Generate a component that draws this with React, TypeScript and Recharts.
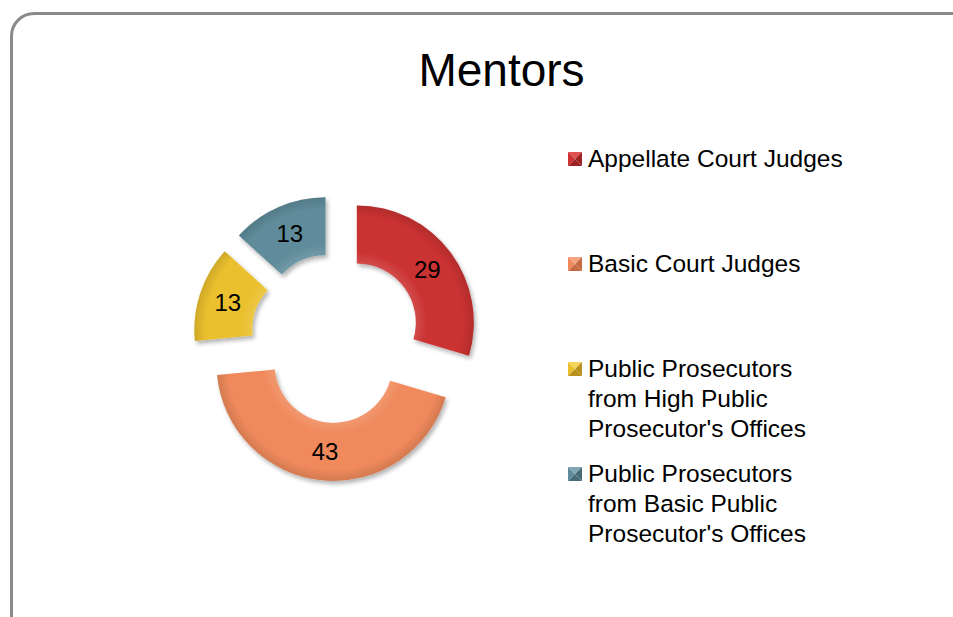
import React from 'react';
import { PieChart, Pie, Cell, Sector, Legend } from 'recharts';

const categories = [
  'Appellate Court Judges',
  'Basic Court Judges',
  "Public Prosecutors from High Public Prosecutor's Offices",
  "Public Prosecutors from Basic Public Prosecutor's Offices",
];
const legendLines = [
  ['Appellate Court Judges'],
  ['Basic Court Judges'],
  ['Public Prosecutors', 'from High Public', "Prosecutor's Offices"],
  ['Public Prosecutors', 'from Basic Public', "Prosecutor's Offices"],
];
const values = [29, 43, 13, 13];
const colors = ['#CB3131', '#F08A5C', '#EAC02E', '#5F8B9A'];
const lightColors = ['#E0524F', '#F6A47E', '#F5D65A', '#81A6B3'];
const darkColors = ['#9E2222', '#C86A43', '#B8921C', '#466C79'];

const data = categories.map((name, i) => ({ name, value: values[i] }));

const RAD = Math.PI / 180;
const EXPLODE = 26;
const FONT = '"Liberation Sans", Arial, sans-serif';

const offset = (midAngle: number) => ({
  dx: EXPLODE * Math.cos(-midAngle * RAD),
  dy: EXPLODE * Math.sin(-midAngle * RAD),
});

const ExplodedSector = (props: any) => {
  const { dx, dy } = offset(props.midAngle);
  const x = props.cx + dx;
  const y = props.cy + dy;
  const id = `bevel-${props.index ?? Math.round(props.midAngle)}`;
  const inner = props.innerRadius / props.outerRadius;
  return (
    <g>
      <defs>
        <radialGradient id={id} gradientUnits="userSpaceOnUse" cx={x} cy={y} r={props.outerRadius}>
          <stop offset={inner} stopColor="#fff" stopOpacity={0.12} />
          <stop offset={inner + 0.1} stopColor="#fff" stopOpacity={0} />
          <stop offset={0.9} stopColor="#000" stopOpacity={0} />
          <stop offset={1} stopColor="#000" stopOpacity={0.12} />
        </radialGradient>
      </defs>
      <Sector {...props} cx={x} cy={y} filter="url(#sliceShadow)" />
      <Sector {...props} cx={x} cy={y} fill={`url(#${id})`} stroke="none" />
    </g>
  );
};

const renderLabel = (props: any) => {
  const { cx, cy, midAngle, innerRadius, outerRadius, value } = props;
  const { dx, dy } = offset(midAngle);
  const r = (innerRadius + outerRadius) / 2;
  const x = cx + dx + r * Math.cos(-midAngle * RAD);
  const y = cy + dy + r * Math.sin(-midAngle * RAD);
  return (
    <text x={x} y={y} fill="#000" fontSize={24} fontFamily={FONT} textAnchor="middle" dominantBaseline="central">
      {value}
    </text>
  );
};

const Marker = ({ i }: { i: number }) => (
  <svg width={14} height={14} style={{ position: 'absolute', left: 0, top: 8 }}>
    <polygon points="0,0 14,0 7,7" fill={lightColors[i]} />
    <polygon points="0,0 0,14 7,7" fill={colors[i]} />
    <polygon points="14,0 14,14 7,7" fill={darkColors[i]} />
    <polygon points="0,14 14,14 7,7" fill={darkColors[i]} />
  </svg>
);

const renderLegend = () => (
  <div style={{ fontFamily: FONT, fontSize: 24.5, color: '#000' }}>
    {legendLines.map((lines, i) => (
      <div key={i} style={{ position: 'relative', height: 105, paddingLeft: 20 }}>
        <Marker i={i} />
        {lines.map((l, j) => (
          <div key={j} style={{ lineHeight: '30px', whiteSpace: 'nowrap' }}>{l}</div>
        ))}
      </div>
    ))}
  </div>
);

export default function App() {
  return (
    <div style={{ position: 'absolute', left: 0, top: 0, width: 953, height: 617, overflow: 'hidden', background: '#fff' }}>
      <div
        style={{
          position: 'absolute',
          left: 10,
          top: 12,
          width: 980,
          height: 640,
          border: '3px solid #8A8A8A',
          borderRadius: 24,
          boxSizing: 'border-box',
        }}
      />
      <div
        style={{
          position: 'absolute',
          left: 0,
          top: 40,
          width: 1003,
          textAlign: 'center',
          fontFamily: FONT,
          fontSize: 46,
          lineHeight: '60px',
          color: '#000',
        }}
      >
        Mentors
      </div>
      <PieChart
        width={953}
        height={617}
        margin={{ top: 0, right: 0, bottom: 0, left: 0 }}
        style={{ position: 'absolute', left: 0, top: 0 }}
      >
        <defs>
          <filter id="sliceShadow" x="-20%" y="-20%" width="140%" height="140%">
            <feDropShadow dx={2} dy={3} stdDeviation={2} floodColor="#000" floodOpacity={0.3} />
          </filter>
        </defs>
        <Pie
          data={data}
          dataKey="value"
          nameKey="name"
          cx={336}
          cy={338}
          innerRadius={59}
          outerRadius={117}
          startAngle={90}
          endAngle={-270}
          stroke="none"
          shape={ExplodedSector}
          label={renderLabel}
          labelLine={false}
          isAnimationActive={false}
        >
          {data.map((d, i) => (
            <Cell key={d.name} fill={colors[i]} />
          ))}
        </Pie>
        <Legend
          layout="vertical"
          align="right"
          verticalAlign="top"
          content={renderLegend}
          wrapperStyle={{ left: 568, top: 144, width: 320, right: 'auto' }}
        />
      </PieChart>
    </div>
  );
}
